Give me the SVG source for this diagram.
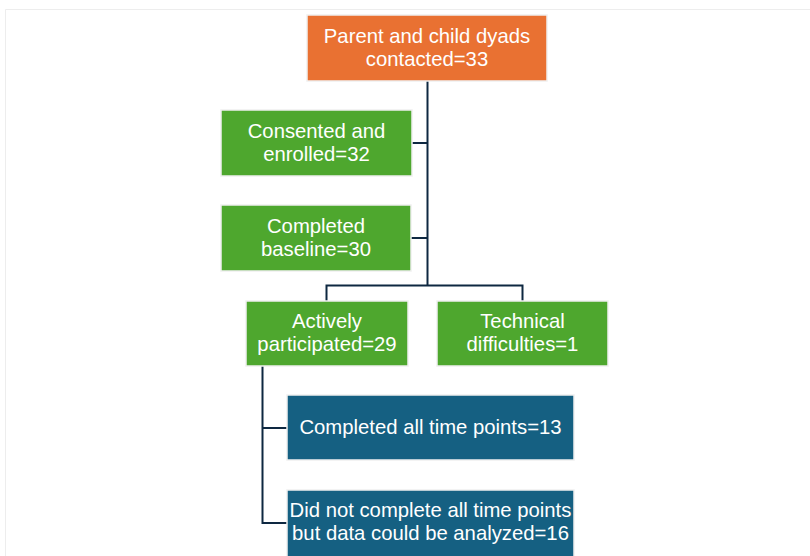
<svg xmlns="http://www.w3.org/2000/svg" width="810" height="556" viewBox="0 0 810 556">
<style>
.box{stroke:#f0f0f0;stroke-width:1.5}
.o{fill:#E97132}
.g{fill:#4EA72E}
.b{fill:#156082}
text{font-family:"Liberation Sans",Arial,sans-serif;font-size:20.3px;fill:#ffffff;text-anchor:middle}
.ln{fill:none;stroke:#0E2841;stroke-width:2}
</style>
<rect width="810" height="556" fill="#ffffff"/>
<path d="M5.5 556 V9.5 H810" fill="none" stroke="#ededed" stroke-width="1"/>
<g id="connectors">
<path class="ln" d="M427.5 81 V285.5"/>
<path class="ln" d="M412 143 H427.5"/>
<path class="ln" d="M411 238 H427.5"/>
<path class="ln" d="M326.5 301 V285.5 H522.5 V301"/>
<path class="ln" d="M262.5 366 V523 H287"/>
<path class="ln" d="M262.5 428 H287"/>
</g>
<g id="n1"><rect class="box o" x="307" y="15" width="240" height="66"/><text x="427" y="43">Parent and child dyads</text><text x="427" y="66">contacted=33</text></g>
<g id="n2"><rect class="box g" x="221" y="110" width="191" height="66"/><text x="316.5" y="137.5">Consented and</text><text x="316.5" y="160.5">enrolled=32</text></g>
<g id="n3"><rect class="box g" x="221" y="205" width="190" height="66"/><text x="316" y="232.5">Completed</text><text x="316" y="255.5">baseline=30</text></g>
<g id="n4"><rect class="box g" x="246" y="301" width="162" height="65"/><text x="327" y="328">Actively</text><text x="327" y="351">participated=29</text></g>
<g id="n5"><rect class="box g" x="437" y="301" width="171" height="65"/><text x="522.5" y="328">Technical</text><text x="522.5" y="351">difficulties=1</text></g>
<g id="n6"><rect class="box b" x="287" y="395" width="287" height="65"/><text x="430.5" y="434">Completed all time points=13</text></g>
<g id="n7"><rect class="box b" x="287" y="490" width="287" height="68"/><text x="430.5" y="517">Did not complete all time points</text><text x="430.5" y="540">but data could be analyzed=16</text></g>
</svg>
